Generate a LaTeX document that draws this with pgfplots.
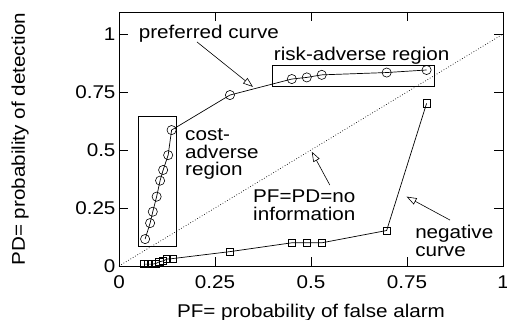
\documentclass[border=0pt]{standalone}
\usepackage{fontspec}
\setmainfont{Liberation Sans}[FakeStretch=1.12]
\usepackage{pgfplots}
\pgfplotsset{compat=1.18}
\usetikzlibrary{arrows.meta}
\newcommand\lf{\fontsize{18.5}{18}\selectfont}
\begin{document}
\begin{tikzpicture}[font=\lf]
\begin{axis}[
  name=ax,
  scale only axis,
  width=384bp, height=254bp,
  xmin=0, xmax=1, ymin=0, ymax=1.095,
  xtick={0,0.25,0.5,0.75,1},
  ytick={0,0.25,0.5,0.75,1},
  tick align=inside,
  major tick length=9bp,
  /pgf/number format/assume math mode=true,
  ticklabel style={font=\lf},
  xticklabel style={yshift=-6bp},
  xlabel={PF= probability of false alarm},
  ylabel={PD= probability of detection},
  xlabel style={font=\lf, at={([yshift=-47bp]axis description cs:0.5,0)}, anchor=center},
  ylabel style={font=\lf, at={([xshift=-99bp]axis description cs:0,0.5)}, anchor=center, rotate=0},
  axis line style={line width=0.9pt},
  every tick/.style={line width=0.8pt, black},
  clip=false,
]
% diagonal
\addplot[black, dotted, line width=0.7pt] coordinates {(0,0) (1,1)};
% preferred curve
\addplot[black, line width=0.7pt, mark=o, mark size=4.6bp, mark options={solid, line width=0.6pt}] coordinates {
(0.068,0.116) (0.081,0.185) (0.088,0.234) (0.098,0.299) (0.107,0.368) (0.115,0.414) (0.128,0.478) (0.137,0.586)
(0.289,0.737) (0.450,0.806) (0.489,0.813) (0.528,0.824) (0.697,0.834) (0.801,0.845)
};
% negative curve
\addplot[black, line width=0.7pt, mark=square, mark size=3.6bp, mark options={solid, line width=0.6pt}] coordinates {
(0.065,0.008) (0.075,0.008) (0.085,0.008) (0.095,0.010) (0.105,0.018) (0.115,0.022) (0.125,0.030) (0.140,0.032)
(0.289,0.062) (0.450,0.100) (0.489,0.100) (0.528,0.100) (0.697,0.153) (0.801,0.701)
};
% boxes
\draw[line width=0.6pt] (axis cs:0.05,0.085) rectangle (axis cs:0.15,0.645);
\draw[line width=0.6pt] (axis cs:0.40,0.776) rectangle (axis cs:0.82,0.864);
% texts
\node[font=\lf] at (axis cs:0.234,1.0) {preferred curve};
\node[font=\lf] at (axis cs:0.632,0.905) {risk-adverse region};
\node[font=\lf, anchor=west, align=left, inner sep=0pt] at (axis cs:0.172,0.483) {cost-\\adverse\\region};
\node[font=\lf, anchor=west, align=left, inner sep=0pt] at (axis cs:0.349,0.262) {PF=PD=no\\information};
\node[font=\lf, anchor=west, align=left, inner sep=0pt] at (axis cs:0.771,0.110) {negative\\curve};
% arrows
\draw[line width=0.6pt, -{Triangle[open, length=10bp, width=7bp]}] (axis cs:0.203,0.966) -- (axis cs:0.349,0.772);
\draw[line width=0.6pt, -{Triangle[open, length=10bp, width=7bp]}] (axis cs:0.549,0.349) -- (axis cs:0.502,0.493);
\draw[line width=0.6pt, -{Triangle[open, length=10bp, width=7bp]}] (axis cs:0.862,0.198) -- (axis cs:0.749,0.299);
\end{axis}
\pgfresetboundingbox
\path[use as bounding box] ([shift={(-119bp,-54bp)}]ax.south west) rectangle ([shift={(4bp,12bp)}]ax.north east);
\end{tikzpicture}
\end{document}
